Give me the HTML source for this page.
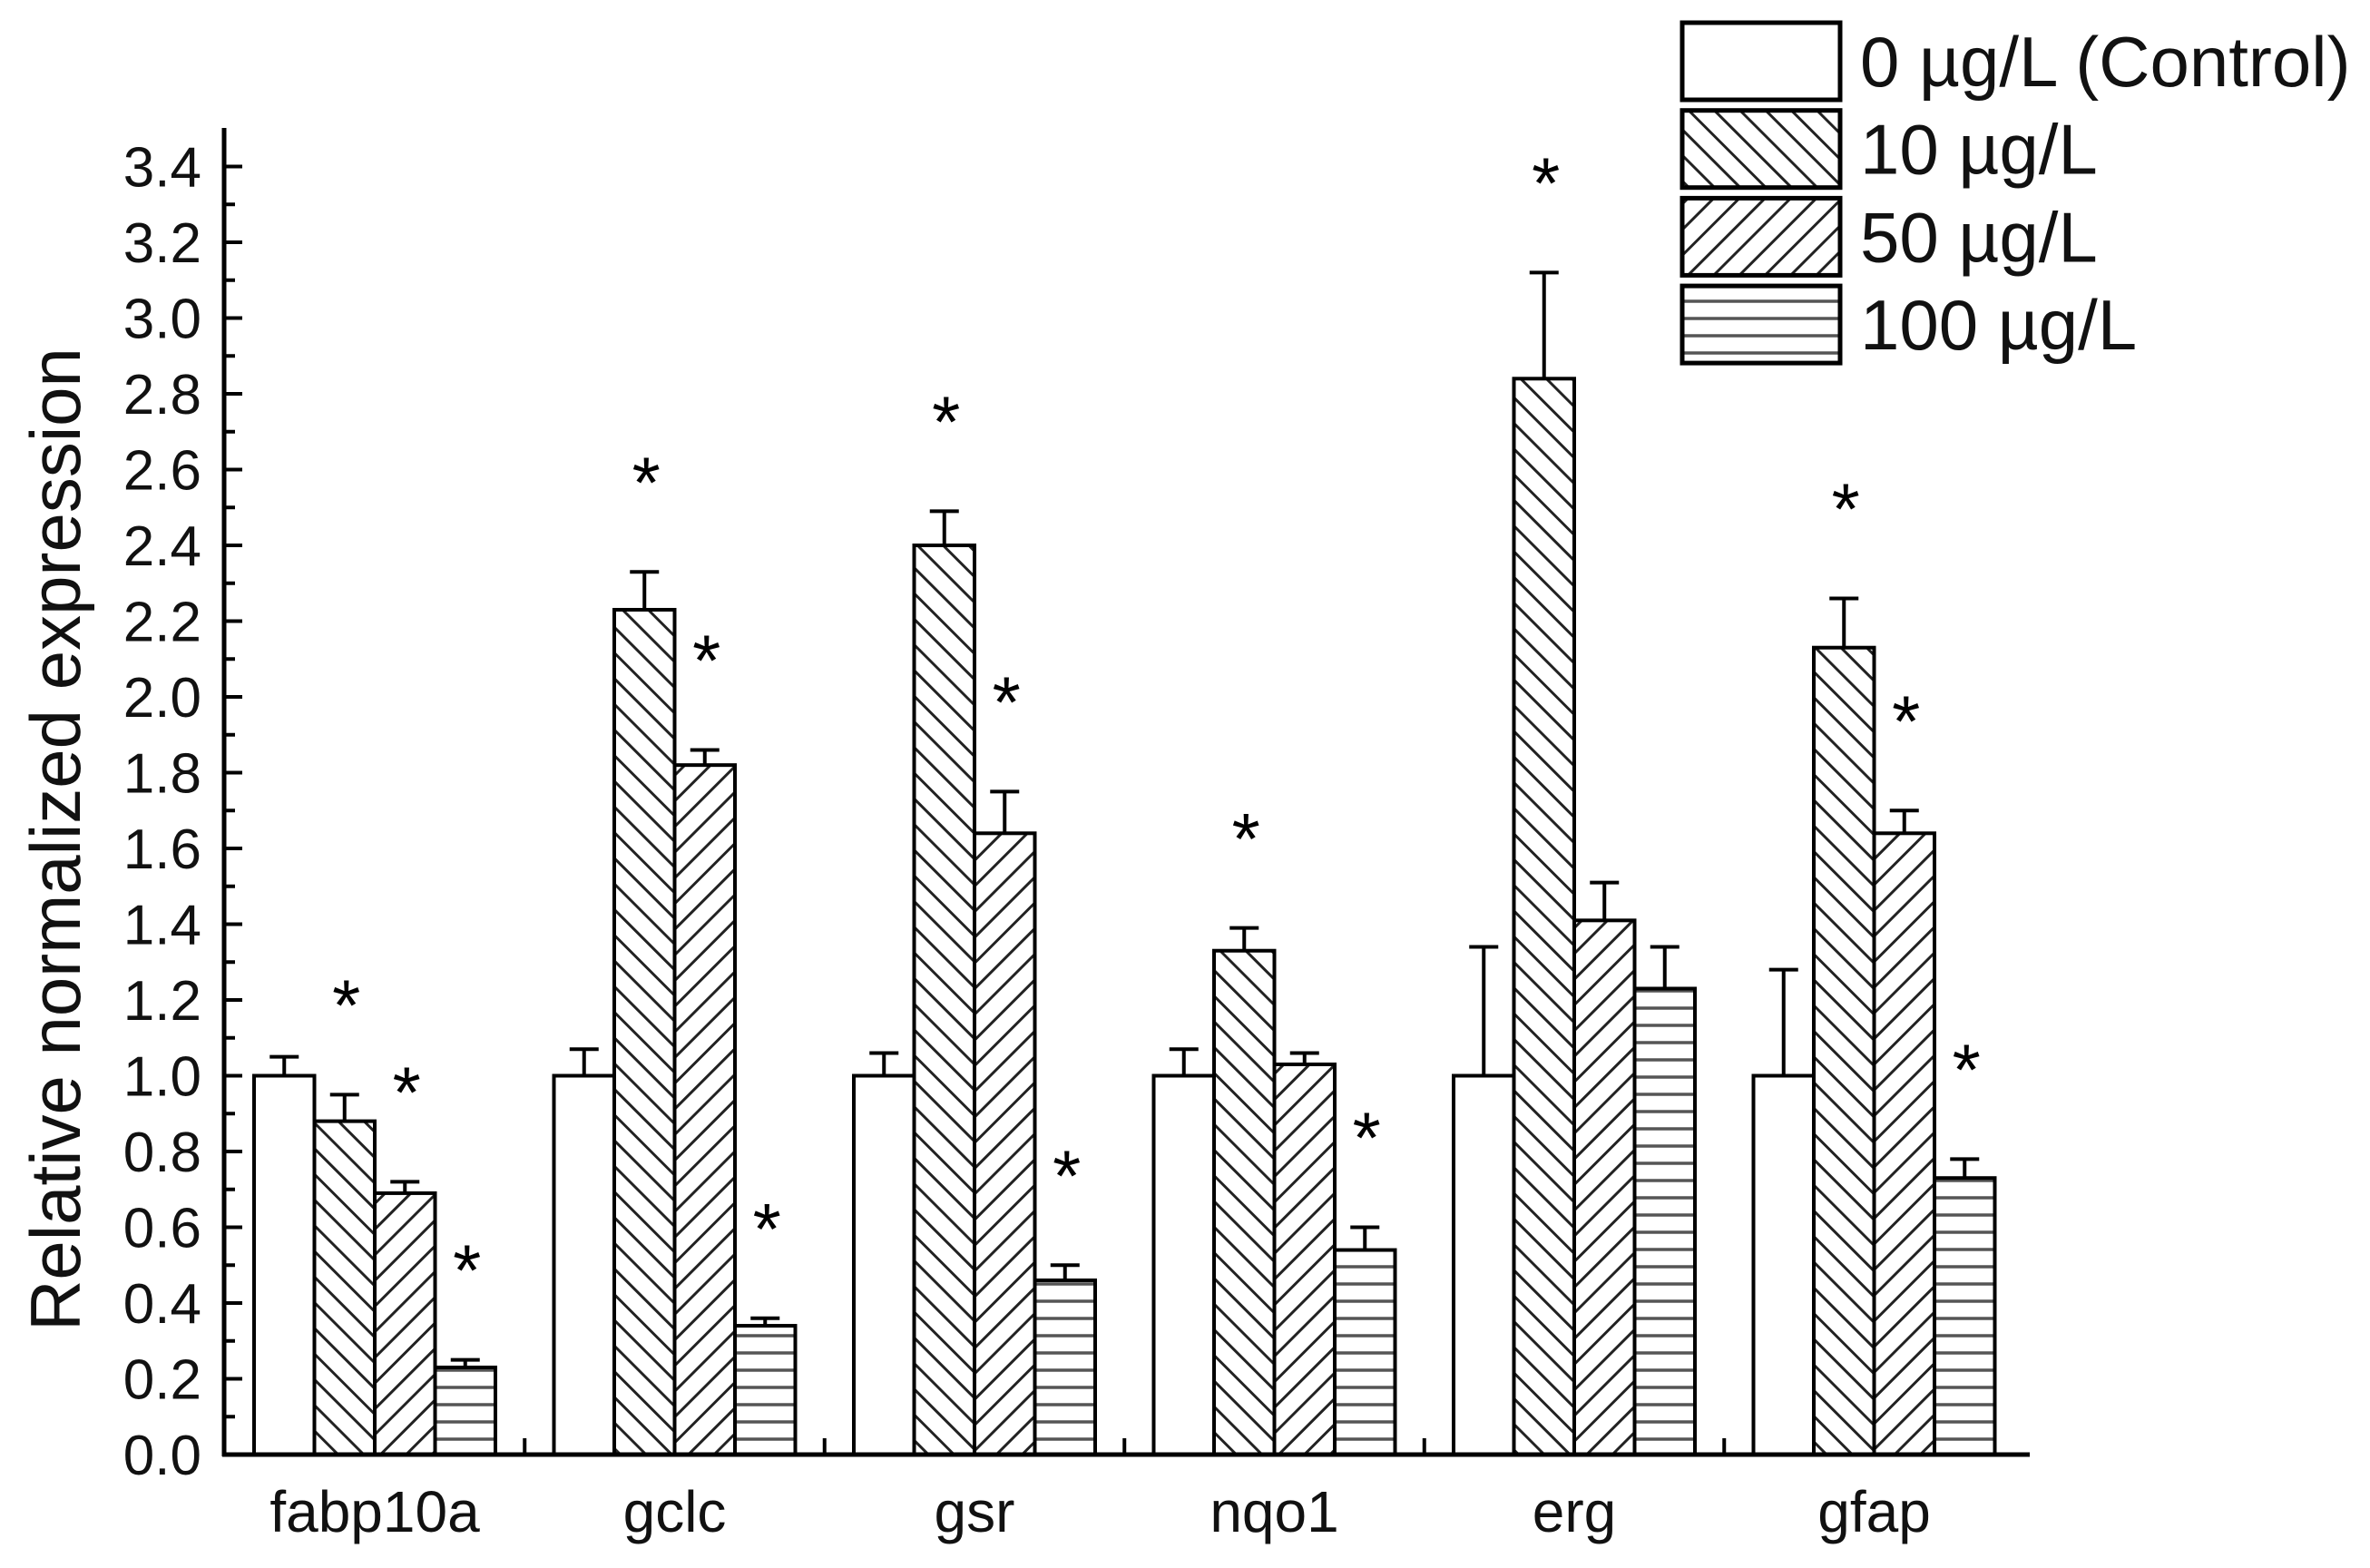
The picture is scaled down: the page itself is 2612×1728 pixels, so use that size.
<!DOCTYPE html>
<html><head><meta charset="utf-8"><style>
html,body{margin:0;padding:0;background:#fff;}
svg{display:block;font-family:"Liberation Sans",Arial,sans-serif;}
</style></head><body>
<svg id="chart" width="2612" height="1728" viewBox="0 0 2612 1728" xmlns="http://www.w3.org/2000/svg">
<defs>
<pattern id="hBack" patternUnits="userSpaceOnUse" width="20" height="20" patternTransform="rotate(45)">
<rect width="20" height="20" fill="#fff"/><line x1="0" y1="10" x2="20" y2="10" stroke="#222" stroke-width="3"/></pattern>
<pattern id="hFwd" patternUnits="userSpaceOnUse" width="20" height="20" patternTransform="rotate(-45)">
<rect width="20" height="20" fill="#fff"/><line x1="0" y1="10" x2="20" y2="10" stroke="#222" stroke-width="3"/></pattern>
<pattern id="hHor" patternUnits="userSpaceOnUse" width="20" height="19">
<rect width="20" height="19" fill="#fff"/><line x1="0" y1="9" x2="20" y2="9" stroke="#555" stroke-width="3.5"/></pattern>
</defs>
<g id="plot"></g>
</svg>
<script>
const categories = ["fabp10a","gclc","gsr","nqo1","erg","gfap"];
const seriesNames = ["0 µg/L (Control)","10 µg/L","50 µg/L","100 µg/L"];
const control = [1.0,1.0,1.0,1.0,1.0,1.0];
const controlErr = [0.05,0.07,0.06,0.07,0.34,0.28];
const dose10 = [0.88,2.23,2.40,1.33,2.84,2.13];
const dose10Err = [0.07,0.10,0.09,0.06,0.28,0.13];
const dose50 = [0.69,1.82,1.64,1.03,1.41,1.64];
const dose50Err = [0.03,0.04,0.11,0.03,0.10,0.06];
const dose100 = [0.23,0.34,0.46,0.54,1.23,0.73];
const dose100Err = [0.02,0.02,0.04,0.06,0.11,0.05];
const star10 = [1,1,1,1,1,1];
const star50 = [1,1,1,0,0,1];
const star100 = [1,1,1,1,0,1];
const yTicks = ["0.0","0.2","0.4","0.6","0.8","1.0","1.2","1.4","1.6","1.8","2.0","2.2","2.4","2.6","2.8","3.0","3.2","3.4"];

const NS="http://www.w3.org/2000/svg";
const g=document.getElementById('plot');
const X0=247, X1=2237, Y0=1603, YTOP=141, PER=417.5;
const y=v=>Y0-v*PER;
const groupStart=i=>280+i*330.5;
const BW=66.5;
const x=(i,s)=>groupStart(i)+s*BW;
function mk(tag,attrs,parent){const e=document.createElementNS(NS,tag);for(const k in attrs)e.setAttribute(k,attrs[k]);(parent||g).appendChild(e);return e;}
const fills=["#fff","url(#hBack)","url(#hFwd)","url(#hHor)"];
const vals=[control,dose10,dose50,dose100];
const errs=[controlErr,dose10Err,dose50Err,dose100Err];
const stars=[null,star10,star50,star100];

yTicks.forEach((t,k)=>{
  const v=parseFloat(t);
  const tk=mk('line',{x1:X0,x2:X0+20,y1:y(v),y2:y(v),stroke:'#000','stroke-width':4});
  
  
  if(k<yTicks.length-1){
    const mt=mk('line',{x1:X0,x2:X0+12,y1:y(v+0.1),y2:y(v+0.1),stroke:'#000','stroke-width':4});
    
    
  }
  const lb=mk('text',{x:222,y:y(v)+22,'text-anchor':'end','font-size':62,fill:'#111'});
  lb.textContent=t;
  
  
});

categories.forEach((c,i)=>{
  for(let s=0;s<4;s++){
    const v=vals[s][i], e=errs[s][i], bx=x(i,s), cx=bx+BW/2;
    const el=mk('line',{x1:cx,x2:cx,y1:y(v),y2:y(v+e),stroke:'#000','stroke-width':4});
    
    
    const cap=mk('line',{x1:cx-16,x2:cx+16,y1:y(v+e),y2:y(v+e),stroke:'#000','stroke-width':4});
    
    
    const r=mk('rect',{x:bx,y:y(v),width:BW,height:Y0-y(v),fill:fills[s],stroke:'#000','stroke-width':4});
    
    
    if(stars[s] && stars[s][i]){
      const st=mk('text',{x:cx+2,y:y(v+e+0.28)+46,'text-anchor':'middle','font-size':80,fill:'#000'});
      st.textContent='*';
      
      
    }
  }
  const xl=mk('text',{x:groupStart(i)+2*BW,y:1688,'text-anchor':'middle','font-size':64,fill:'#111'});
  xl.textContent=c;
  
  
  if(i<categories.length-1){
    const mx=(groupStart(i)+4*BW+groupStart(i+1))/2;
    const xt=mk('line',{x1:mx,x2:mx,y1:Y0,y2:Y0-18,stroke:'#000','stroke-width':4});
    
    
  }
});

const ya=mk('line',{x1:X0,x2:X0,y1:YTOP,y2:Y0+2,stroke:'#000','stroke-width':5});


const xa=mk('line',{x1:X0-2,x2:X1,y1:Y0,y2:Y0,stroke:'#000','stroke-width':5});


const yt=mk('text',{x:0,y:0,transform:'translate(88,925) rotate(-90)','text-anchor':'middle','font-size':78,fill:'#111'});
yt.textContent='Relative normalized expression';



seriesNames.forEach((n,s)=>{
  const top=25+s*96.7;
  const r=mk('rect',{x:1854,y:top,width:174,height:85,fill:fills[s],stroke:'#000','stroke-width':5});
  
  
  const t=mk('text',{x:2050,y:top+70,'font-size':78,fill:'#111'});
  t.textContent=n;
  
  
});
</script>
</body></html>
